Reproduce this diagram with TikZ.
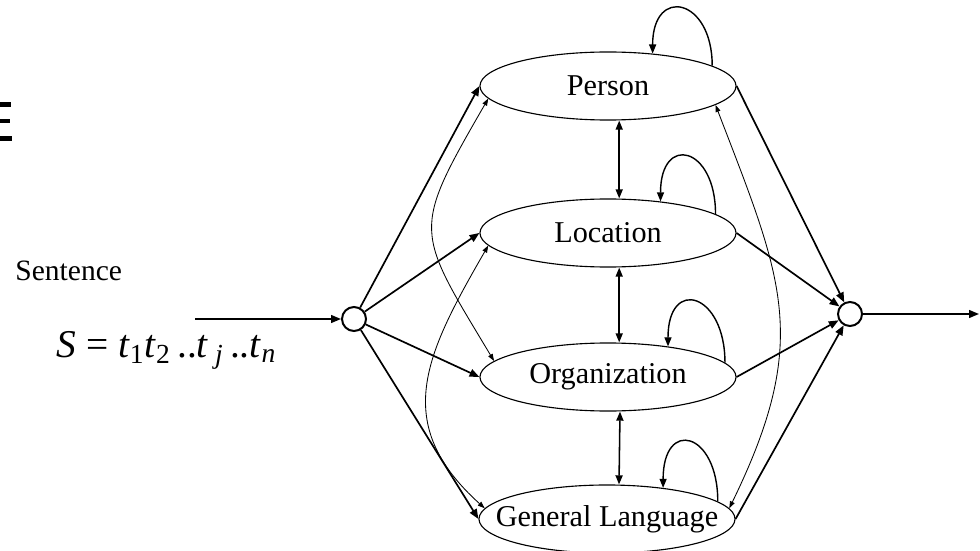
\documentclass[tikz,border=0pt]{standalone}
\usepackage{fontspec}
\setmainfont{Liberation Serif}
\usetikzlibrary{shapes.geometric,arrows.meta}

\newcommand{\statename}[1]{\makebox[0pt]{#1}}

\begin{document}
\begin{tikzpicture}[x=0.025cm,y=0.025cm,
  state/.style={ellipse,draw,line width=0.8pt,inner sep=0pt,minimum width=6.4cm,minimum height=1.7cm,font=\fontsize{21.5}{24}\selectfont},
  junction/.style={circle,draw,line width=1.4pt,inner sep=0pt,minimum size=0.6cm},
  flow/.style={line width=1.2pt,-{Triangle[length=7pt,width=5.5pt]}},
  link/.style={line width=0.6pt,{Triangle[length=5pt,width=3.5pt]}-{Triangle[length=5pt,width=3.5pt]}},
  swap/.style={line width=1.1pt,{Triangle[length=6.5pt,width=5pt]}-{Triangle[length=6.5pt,width=5pt]}},
  stay/.style={line width=1pt,-{Triangle[length=6.5pt,width=5pt]}}]

  \useasboundingbox (0,0) rectangle (980,-551);

  % piece of a letter cut off at the left edge
  \fill (0,-102.5) rectangle (11,-107);
  \fill (0,-119) rectangle (9.5,-123);
  \fill (0,-136.5) rectangle (11.5,-141);

  \node[state] (P) at (608,-86) {\statename{Person}};
  \node[state] (L) at (608,-233) {\statename{Location}};
  \node[state] (O) at (608,-377) {\statename{Organization}};
  \node[state] (G) at (607,-519) {\statename{General Language}};

  \node[junction] (S) at (354,-319) {};
  \node[junction] (E) at (850,-314) {};
  \coordinate (in) at (195,-319);
  \coordinate (out) at (979,-314);

  \node[anchor=base east,font=\fontsize{21}{24}\selectfont] (sent) at (127,-280) {Sentence};
  \node[anchor=base east,font=\fontsize{28}{32}\selectfont] (seq) at (281,-357)
    {\textit{S} = \textit{t}\textsubscript{1}\textit{t}\textsubscript{2}\,..\textit{t}\,\textsubscript{\textit{j}}\,..\textit{t}\textsubscript{\textit{n}}};

  \draw[flow] (in) -- (S);
  \draw[flow] (E) -- (out);
  \path[flow] (S) edge (P.west) edge (L.west) edge (O.west) edge (G.west);
  \path[flow] (P.east) edge (E) (L.east) edge (E) (O.east) edge (E) (G.east) edge (E);

  \draw[swap] ([xshift=0.28cm]P.south) -- ([xshift=0.28cm]L.north);
  \draw[swap] ([xshift=0.28cm]L.south) -- ([xshift=0.28cm]O.north);
  \draw[swap] ([xshift=0.3cm]O.south) -- ([xshift=0.3cm]G.north);

  \draw[stay] (P.11) .. controls +(0,68) and +(0,68) .. (P.36);
  \draw[stay] (L.10) .. controls +(0,68) and +(0,68) .. (L.31);
  \draw[stay] (O.7) .. controls +(0,70) and +(0,70) .. (O.27);
  \draw[stay] (G.9) .. controls +(0,70) and +(0,70) .. (G.29);

  \draw[link] (P.186) to[out=240,in=121,looseness=1.5] (O.172);
  \draw[link] (L.186) to[out=240,in=138,looseness=1.23] (G.175);
  \draw[link] (P.350) to[out=291,in=64,looseness=1.19] (G.5);
\end{tikzpicture}
\end{document}
